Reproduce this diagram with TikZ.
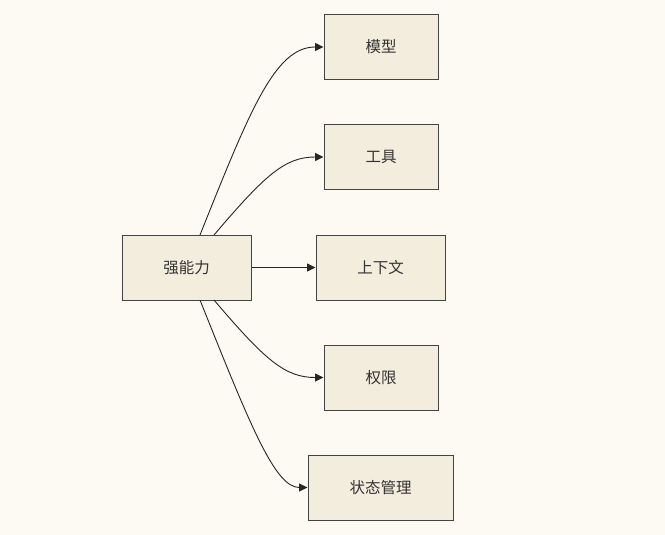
\documentclass[tikz,border=0pt]{standalone}
\usepackage{fontspec}
\newfontfamily\cjk{Noto Sans CJK SC}
\usetikzlibrary{arrows.meta}
\definecolor{bg}{RGB}{253,250,243}
\definecolor{nfill}{RGB}{243,237,222}
\definecolor{nline}{RGB}{68,68,68}
\definecolor{ntext}{RGB}{51,51,51}
\tikzset{
  box/.style={draw=nline, fill=nfill, line width=1pt, inner sep=0pt, minimum height=65pt,
    font=\cjk\fontsize{15.5pt}{18pt}\selectfont, text=ntext},
  link/.style={draw=black!85, line width=0.9pt, -{Triangle[length=8.5pt,width=8pt]}}
}
\begin{document}
\begin{tikzpicture}[x=1pt,y=-1pt]
\fill[bg] (0,0) rectangle (665,535);
\useasboundingbox (0,0) rectangle (665,535);
\node[box, minimum width=129pt] (a) at (186.5,267.5) {强能力};
\node[box, minimum width=114pt] (m) at (381,47) {模型};
\node[box, minimum width=114pt] (t) at (381,157) {工具};
\node[box, minimum width=129pt] (c) at (380.5,267.5) {上下文};
\node[box, minimum width=114pt] (p) at (381,377.5) {权限};
\node[box, minimum width=145pt] (s) at (380.5,487.5) {状态管理};
\coordinate (a1) at (200,235);
\coordinate (a2) at (214,235);
\coordinate (a4) at (214,300);
\coordinate (a5) at (200,300);
\draw[link] (a1) .. controls (250,110) and (275,47) .. (m.west);
\draw[link] (a2) .. controls (265,175) and (285,157) .. (t.west);
\draw[link] (a.east) -- (c.west);
\draw[link] (a4) .. controls (265,360) and (285,377.5) .. (p.west);
\draw[link] (a5) .. controls (250,425) and (275,487.5) .. (s.west);
\end{tikzpicture}
\end{document}
